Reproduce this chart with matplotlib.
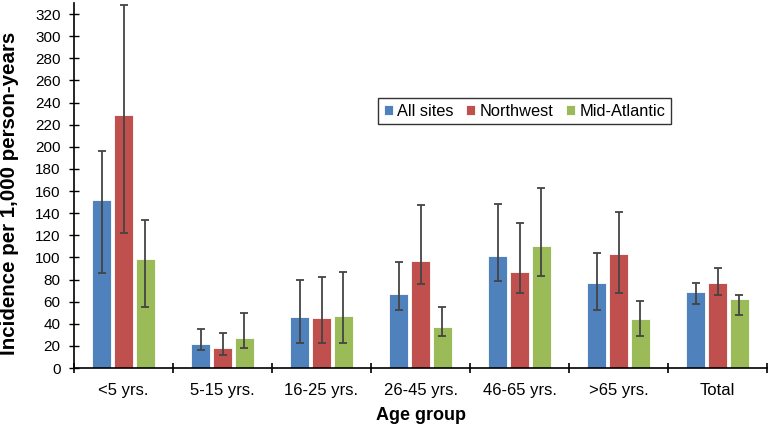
import matplotlib
matplotlib.use("Agg")
import matplotlib.pyplot as plt
import numpy as np

plt.rcParams['font.family'] = ['Liberation Sans', 'DejaVu Sans']

categories = ["<5 yrs.", "5-15 yrs.", "16-25 yrs.", "26-45 yrs.", "46-65 yrs.", ">65 yrs.", "Total"]
series_names = ["All sites", "Northwest", "Mid-Atlantic"]
all_sites = [152, 22, 46, 67, 101, 77, 69]
all_lo = [86, 16, 23, 52, 79, 52, 58]
all_hi = [196, 35, 80, 96, 148, 104, 77]
northwest = [229, 18, 45, 97, 87, 103, 77]
nw_lo = [122, 12, 23, 76, 68, 68, 66]
nw_hi = [328, 32, 82, 147, 131, 141, 90]
mid_atlantic = [99, 27, 47, 37, 110, 44, 62]
ma_lo = [55, 18, 23, 29, 83, 29, 48]
ma_hi = [134, 50, 87, 55, 163, 61, 66]
yticks = list(range(0, 321, 20))

colors = ["#4F81BD", "#C0504D", "#9BBB59"]

fig = plt.figure(figsize=(7.7, 4.26), dpi=100)
ax = fig.add_axes([74/770, 1-368/426, 693/770, 365/426])

x = np.arange(len(categories))
offsets = [-0.222, 0, 0.222]
data = [(all_sites, all_lo, all_hi), (northwest, nw_lo, nw_hi), (mid_atlantic, ma_lo, ma_hi)]
for i, (vals, lo, hi) in enumerate(data):
    vals = np.array(vals); lo = np.array(lo); hi = np.array(hi)
    ax.bar(x + offsets[i], vals, width=0.19, color=colors[i], edgecolor="white",
           linewidth=0.6, label=series_names[i], zorder=2)
    ax.errorbar(x + offsets[i], vals, yerr=[vals - lo, hi - vals], fmt="none",
                ecolor="#444444", elinewidth=1.3, capsize=2.7, capthick=1.3, zorder=3)

ax.set_xlim(-0.5, len(categories) - 0.5)
ax.set_ylim(0, 330)
ax.set_yticks(yticks)
ax.set_xticks(x)
ax.set_xticklabels(categories)
ax.set_xticks(np.arange(-0.5, len(categories)), minor=True)
ax.tick_params(axis="x", which="major", length=0, labelsize=12, pad=11)
ax.tick_params(axis="x", which="minor", length=7, direction="inout", width=1.2)
ax.tick_params(axis="y", labelsize=11, length=7.5, width=1.0, direction="inout", pad=6)
for s in ["top", "right"]:
    ax.spines[s].set_visible(False)
ax.spines["left"].set_linewidth(1.2)
ax.spines["bottom"].set_linewidth(1.2)

ax.set_ylabel("Incidence per 1,000 person-years", fontsize=14.8, fontweight="bold")
ax.yaxis.set_label_coords((19 - 74) / 693, (368 - 193) / 365)
ax.set_xlabel("Age group", fontsize=13, fontweight="bold", labelpad=6.5)

leg = ax.legend(loc="upper left", bbox_to_anchor=((378-74)/693, 1-(98-3)/365), ncol=3,
                frameon=True, fancybox=False, edgecolor="black", fontsize=11.8,
                handlelength=0.55, handleheight=0.55, handletextpad=0.25, columnspacing=0.8,
                borderpad=0.35, borderaxespad=0)
leg.get_frame().set_linewidth(1.0)

fig.savefig("out.png", dpi=100)
